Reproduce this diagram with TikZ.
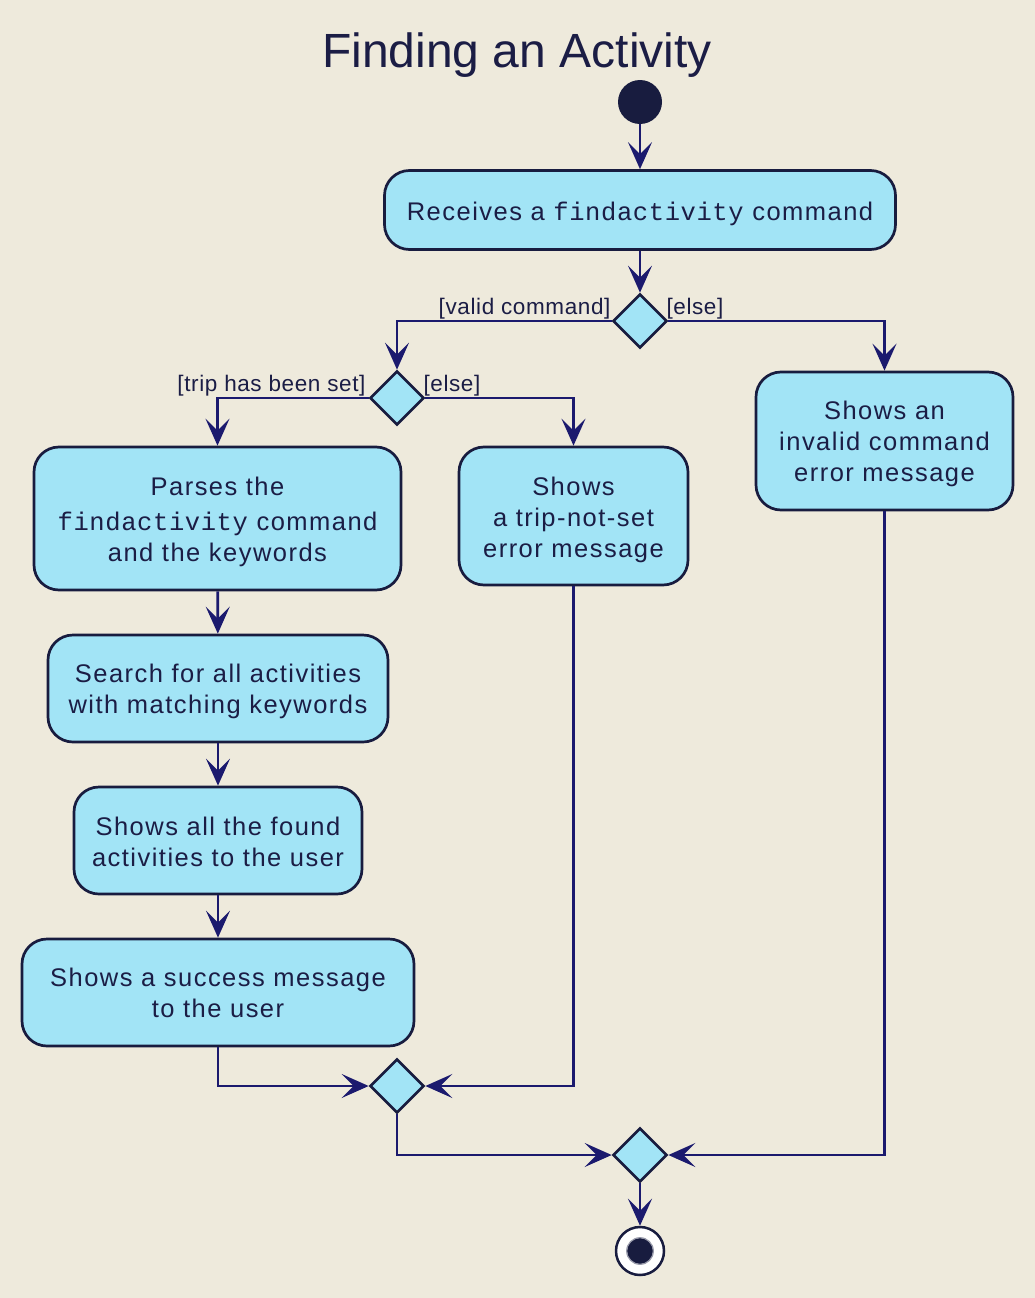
\documentclass[tikz,border=0pt]{standalone}
\usepackage{fontspec}
\setmainfont{Liberation Sans}
\newfontfamily\bodyfont{Liberation Sans}[LetterSpace=5.8]
\newfontfamily\guardfont{Liberation Sans}[LetterSpace=2.7]
\newfontfamily\codefont{Liberation Mono}[LetterSpace=2.4]
\usetikzlibrary{shapes.geometric,arrows.meta}
\definecolor{bg}{HTML}{EEEADC}
\definecolor{boxfill}{HTML}{A2E4F6}
\definecolor{border}{HTML}{181C3F}
\definecolor{arrowc}{HTML}{1B1A6E}
\definecolor{ink}{HTML}{1B1D45}
\definecolor{startc}{HTML}{181C3F}
\newcommand\cmdtxt[1]{{\codefont #1}}
\tikzset{
  actbox/.style={draw=border, fill=boxfill, line width=2.7pt, rounded corners=25pt,
    inner sep=0pt},
  acttext/.style={align=center, text=ink, inner sep=0pt,
    font=\fontsize{25.5}{31}\selectfont\bodyfont},
  dia/.style={diamond, draw=border, fill=boxfill, line width=2.7pt, aspect=1,
    minimum width=54pt, minimum height=54pt, inner sep=0pt},
  arr/.style={draw=arrowc, line width=2.6pt,
    -{Stealth[length=27pt,width=24pt,inset=12pt]}},
  guard/.style={text=ink, inner ysep=1.5pt, inner xsep=0pt,
    font=\fontsize{22.5}{26}\selectfont\guardfont},
}
\begin{document}
\begin{tikzpicture}[x=1pt,y=-1pt]
\useasboundingbox (0,0) rectangle (1035,1298);
\fill[bg] (0,0) rectangle (1035,1298);

\node[text=ink, anchor=base, inner sep=0pt, font=\fontsize{48}{56}\selectfont] (title) at (517,67) {Finding an Activity};

\node[circle, fill=startc, minimum size=44pt, inner sep=0pt] (start) at (640,102) {};

\node[actbox, minimum width=511pt, minimum height=79pt,
  label={[acttext, yshift=-4pt]center:{Receives a \cmdtxt{findactivity} command}}] (recv) at (640,210) {};

\node[dia] (d1) at (640,321) {};
\node[dia] (d2) at (397,398) {};

\node[actbox, minimum width=367pt, minimum height=143pt,
  label={[acttext, yshift=-3pt]center:{Parses the\\[4pt]\cmdtxt{findactivity} command\\and the keywords}}] (parse) at (217.5,518.5) {};
\node[actbox, minimum width=229pt, minimum height=138pt,
  label={[acttext, yshift=-4pt]center:{Shows\\a trip-not-set\\error message}}] (trip) at (573.5,516) {};
\node[actbox, minimum width=257pt, minimum height=138pt,
  label={[acttext, yshift=-3pt]center:{Shows an\\invalid command\\error message}}] (invalid) at (884.5,441) {};
\node[actbox, minimum width=340pt, minimum height=107pt,
  label={[acttext, yshift=-3pt]center:{Search for all activities\\with matching keywords}}] (search) at (218,688.5) {};
\node[actbox, minimum width=288pt, minimum height=107pt,
  label={[acttext, yshift=-1pt]center:{Shows all the found\\activities to the user}}] (found) at (218,840.5) {};
\node[actbox, minimum width=392pt, minimum height=107pt,
  label={[acttext]center:{Shows a success message\\to the user}}] (success) at (218,992.5) {};

\node[dia] (m1) at (397,1086) {};
\node[dia] (m2) at (640,1155) {};

\node[circle, draw=border, fill=white, line width=2.5pt, minimum size=48pt, inner sep=0pt] (stop) at (640,1251) {};
\fill[startc] (stop.center) circle (13pt);
\draw[color=border!45!white, line width=1.2pt] (stop.center) circle (13.3pt);

\draw[arr] (start) -- (recv);
\draw[arr] (recv) -- (d1);
\draw[arr] (d1.west) -| (d2.north);
\draw[arr] (d1.east) -| (invalid.north);
\draw[arr] (d2.west) -| (parse.north);
\draw[arr] (d2.east) -| (trip.north);
\draw[arr] (parse) -- (search);
\draw[arr] (search) -- (found);
\draw[arr] (found) -- (success);
\draw[arr] (success.south) |- (m1.west);
\draw[arr] (trip.south) |- (m1.east);
\draw[arr] (m1.south) |- (m2.west);
\draw[arr] (invalid.south) |- (m2.east);
\draw[arr] (m2) -- (stop);

\node[guard, anchor=south east] (g1) at ([xshift=-1pt]d1.west) {[valid command]};
\node[guard, anchor=south west] (g2) at ([xshift=-2pt]d1.east) {[else]};
\node[guard, anchor=south east] (g3) at ([xshift=-3pt]d2.west) {[trip has been set]};
\node[guard, anchor=south west] (g4) at ([xshift=-2pt]d2.east) {[else]};
\end{tikzpicture}
\end{document}
